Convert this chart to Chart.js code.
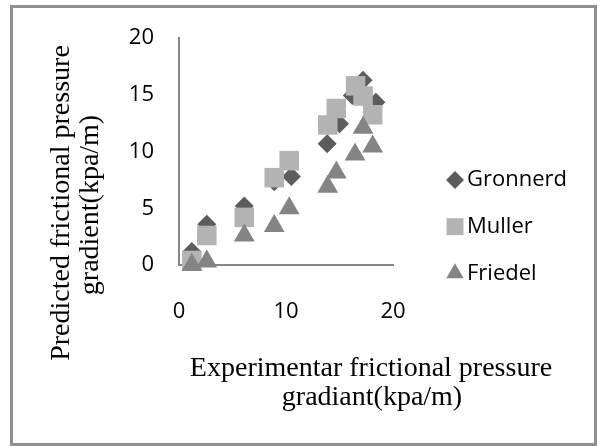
<!DOCTYPE html>
<html>
<head>
<meta charset="utf-8">
<script src="https://cdn.jsdelivr.net/npm/chart.js@4/dist/chart.umd.min.js"></script>
<style>
  body { margin: 0; background: #fff; }
  #wrap { position: relative; width: 598px; height: 446px; }
  #frame { position: absolute; left: 10px; top: 5px; width: 587px; height: 441px;
           border: 3px solid #909090; box-sizing: border-box; pointer-events: none; }
  canvas { position: absolute; left: 0; top: 0; }
</style>
</head>
<body>
<div id="wrap">
  <canvas id="chart" width="598" height="446"></canvas>
  <div id="frame"></div>
</div>
<script>
// values
const seriesNames = ["Gronnerd", "Muller", "Friedel"];

const gronnerdX = [1.2, 2.6, 6.1, 8.9, 10.5, 13.85, 15.0, 16.2, 17.2, 18.4];
const gronnerdY = [1.2, 3.6, 5.2, 7.35, 7.8, 10.7, 12.45, 14.95, 16.3, 14.35];

const mullerX = [1.2, 2.6, 6.1, 8.9, 10.3, 13.9, 14.7, 16.5, 17.2, 18.1];
const mullerY = [0.4, 2.6, 4.2, 7.7, 9.2, 12.35, 13.8, 15.8, 14.9, 13.25];

const friedelX = [1.2, 2.6, 6.1, 8.9, 10.3, 13.9, 14.7, 16.45, 17.2, 18.1];
const friedelY = [0.0, 0.3, 2.6, 3.45, 5.0, 6.9, 8.15, 9.75, 12.1, 10.45];

const xTitle = ["Experimentar frictional pressure", "gradiant(kpa/m)"];
const yTitle = ["Predicted frictional pressure", "gradient(kpa/m)"];

function toPoints(xs, ys) {
  return xs.map((x, i) => ({ x: x, y: ys[i] }));
}

const tickFont = { family: "'Open Sans'", size: 22 };

// axis titles and legend are placed by hand to sit where the original has them
const extras = {
  id: "extras",
  afterDraw(chart) {
    const ctx = chart.ctx;
    ctx.save();
    ctx.fillStyle = "#000";
    ctx.font = "28px 'Liberation Serif'";
    ctx.textAlign = "center";
    ctx.textBaseline = "alphabetic";
    ctx.fillText(xTitle[0], 371, 376);
    ctx.fillText(xTitle[1], 372, 405);

    ctx.save();
    ctx.translate(69, 203);
    ctx.rotate(-Math.PI / 2);
    ctx.fillText(yTitle[0], 0, 0);
    ctx.restore();
    ctx.save();
    ctx.translate(98, 205);
    ctx.rotate(-Math.PI / 2);
    ctx.fillText(yTitle[1], 0, 0);
    ctx.restore();

    const legendY = [180, 226.7, 273.3];
    const legendR = [9, 12, 10];
    chart.data.datasets.forEach((ds, i) => {
      ctx.fillStyle = ds.backgroundColor;
      Chart.helpers.drawPoint(ctx, {
        pointStyle: ds.pointStyle, radius: legendR[i], rotation: 0, borderWidth: 0
      }, 455, legendY[i]);
      ctx.fillStyle = "#000";
      ctx.font = "22px 'Open Sans'";
      ctx.textAlign = "left";
      ctx.textBaseline = "middle";
      ctx.fillText(ds.label, 467, legendY[i]);
    });
    ctx.restore();
  }
};

new Chart(document.getElementById("chart"), {
  type: "scatter",
  data: {
    datasets: [
      {
        label: seriesNames[0],
        data: toPoints(gronnerdX, gronnerdY),
        pointStyle: "rectRot",
        pointRadius: 9.5,
        backgroundColor: "#5c5c5c",
        borderWidth: 0,
        order: 3,
        clip: false,
      },
      {
        label: seriesNames[1],
        data: toPoints(mullerX, mullerY),
        pointStyle: "rect",
        pointRadius: 13.8,
        backgroundColor: "#b3b3b3",
        borderWidth: 0,
        order: 2,
        clip: false,
      },
      {
        label: seriesNames[2],
        data: toPoints(friedelX, friedelY),
        pointStyle: "triangle",
        pointRadius: 12,
        backgroundColor: "#848484",
        borderWidth: 0,
        order: 1,
        clip: false,
      },
    ],
  },
  options: {
    responsive: false,
    animation: false,
    events: [],
    layout: { padding: { left: 119, right: 205, top: 35, bottom: 121 } },
    plugins: { legend: { display: false }, tooltip: { enabled: false } },
    scales: {
      x: {
        min: 0,
        max: 20,
        ticks: { stepSize: 10, color: "#000", font: tickFont, padding: 34 },
        grid: { display: false, drawTicks: false },
        border: { display: true, color: "#868686", width: 2 },
        afterFit: (scale) => { scale.height = 60; },
      },
      y: {
        min: 0,
        max: 20,
        ticks: { stepSize: 5, color: "#000", font: tickFont, padding: 25 },
        grid: { display: false, drawTicks: false },
        border: { display: true, color: "#868686", width: 2 },
        afterFit: (scale) => { scale.width = 60; },
      },
    },
  },
  plugins: [extras],
});
</script>
</body>
</html>
